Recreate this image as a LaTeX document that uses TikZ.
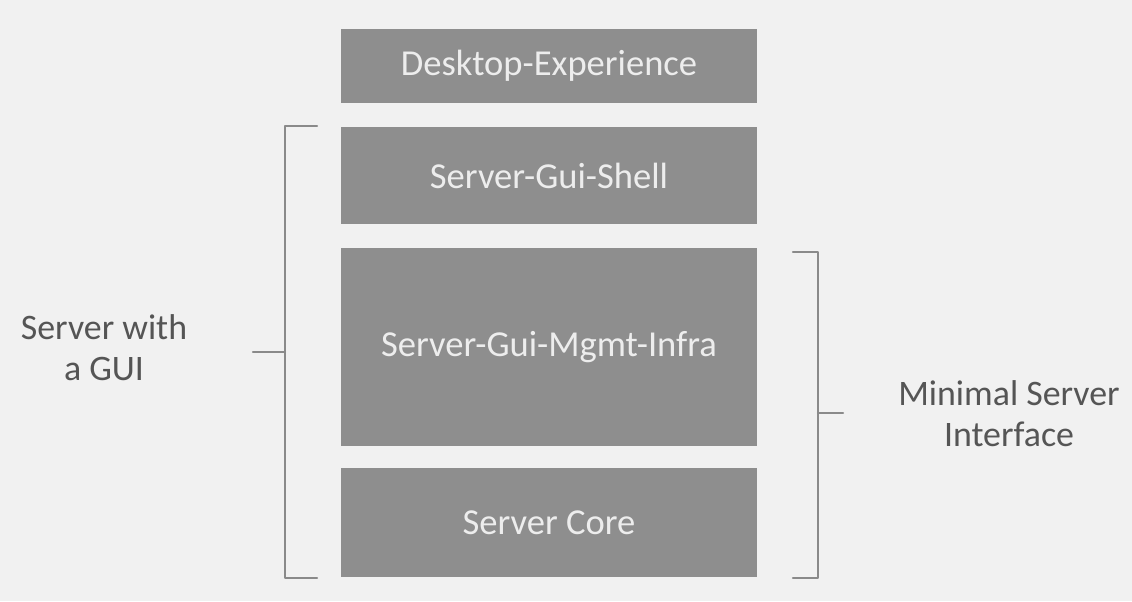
\documentclass[tikz,border=0pt]{standalone}
\usepackage{fontspec}
\setmainfont{Carlito}
\usepackage{xcolor}
\definecolor{boxgray}{HTML}{8E8E8E}
\definecolor{boxtext}{HTML}{EDEDED}
\definecolor{paper}{HTML}{F1F1F1}
\definecolor{bracegray}{HTML}{8A8A8A}
\definecolor{labeltext}{HTML}{555555}

\begin{document}
\begin{tikzpicture}[x=0.025cm, y=-0.025cm,
    layer/.style={fill=boxgray, text=boxtext, minimum width=416*0.025cm,
      inner sep=0pt, font=\fontsize{26}{30}\selectfont},
    side/.style={text=labeltext, align=center, font=\fontsize{25.5}{29}\selectfont},
    brace/.style={draw=bracegray, line width=1.6pt, line cap=round, line join=round}]
        % Background
        \fill[paper] (0,0) rectangle (1132,601);
        \useasboundingbox (0,0) rectangle (1132,601);
        % Layers
        \node[layer, minimum height=74*0.025cm] (DE) at (549, 65.5) {Desktop-Experience};
        \node[layer, minimum height=97*0.025cm] (GS) at (549,175.5) {Server-Gui-Shell};
        \node[layer, minimum height=198*0.025cm] (MI) at (549,347) {Server-Gui-Mgmt-Infra};
        \node[layer, minimum height=109*0.025cm] (SC) at (549,522.5) {Server Core};
        % Side labels
        \node[side] (GUI) at (104,348) {Server with\\a GUI};
        \node[side] (MSI) at (1009,414) {Minimal Server\\Interface};
        % Braces
        \coordinate (LT) at (317,126);
        \coordinate (LB) at (317,578);
        \draw[brace] (LT) -- (285,126) -- (285,578) -- (LB);
        \draw[brace] (285,352) -- (253,352);
        \coordinate (RT) at (793,252);
        \coordinate (RB) at (793,578);
        \draw[brace] (RT) -- (818,252) -- (818,578) -- (RB);
        \draw[brace] (818,413) -- (843,413);
    \end{tikzpicture}
\end{document}
